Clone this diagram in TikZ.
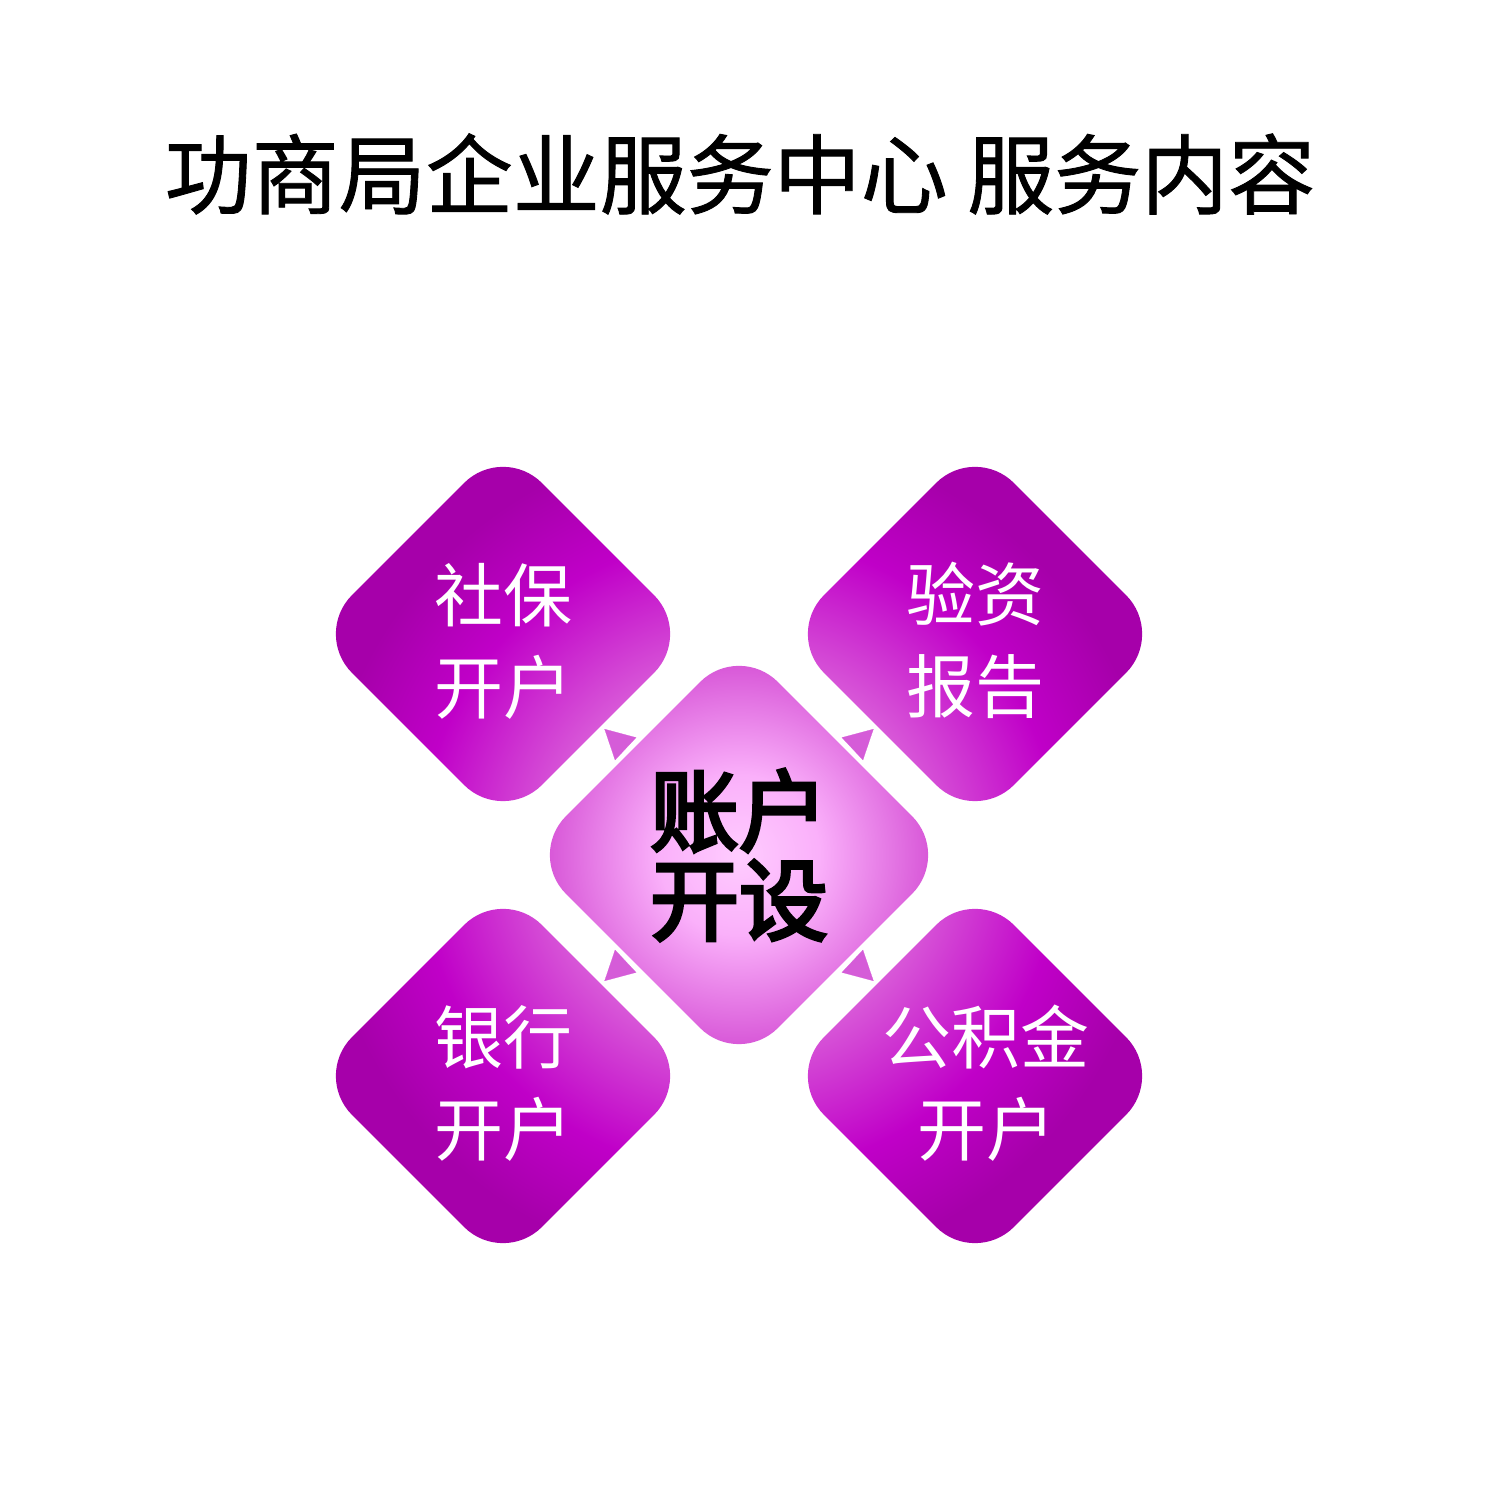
\documentclass[tikz,border=0pt]{standalone}
\usepackage{fontspec}
\newfontfamily\cjk{Noto Sans CJK SC}
\newfontfamily\cjkmid[FakeBold=1]{Noto Sans CJK SC}
\newfontfamily\cjkheavy[FakeBold=4]{Noto Sans CJK SC}
\usepackage{tikz}
\usetikzlibrary{calc,positioning,arrows.meta,shapes.geometric}
\definecolor{GlowCore}{HTML}{FFCCFF}
\definecolor{GlowLight}{HTML}{FAB0FA}
\definecolor{GlowMid}{HTML}{D858D8}
\definecolor{GlowMagenta}{HTML}{C000C8}
\definecolor{GlowDark}{HTML}{A600AA}
\definecolor{TipPink}{HTML}{D55CD8}
\pgfdeclareradialshading{glow}{\pgfpointorigin}{color(0bp)=(GlowCore); color(4bp)=(GlowLight); color(9.5bp)=(GlowMid); color(16bp)=(GlowMagenta); color(21bp)=(GlowDark); color(25bp)=(GlowDark); color(50bp)=(GlowDark)}
\newcommand\topgap{\rule{0pt}{72pt}}
\newcommand\nudge[1]{\hspace*{11pt}#1\hspace*{-11pt}}

\begin{document}
\begin{tikzpicture}[x=1pt,y=1pt,
        tile/.style={diamond, aspect=1, inner sep=0pt, rounded corners=55pt, align=center,
            path picture={\shade[shading=glow] (glow) circle (500pt);}},
        service/.style={tile, minimum width=380pt, minimum height=380pt, text=white,
            font=\cjk\fontsize{69}{92}\selectfont},
        pointer/.style={-{Triangle[length=29pt,width=31pt]}, line width=0.2pt, TipPink}]
        \useasboundingbox (0,0) rectangle (1507,1507);
        \coordinate (glow) at (739,652);

        \node[font=\cjkmid\fontsize{87}{87}\selectfont] (title) at (740,1333) {功商局企业服务中心 服务内容};

        \node[tile, minimum width=424pt, minimum height=424pt,
            font=\cjkheavy\fontsize{89}{89}\selectfont] (acct) at (glow) {账户\\开设};
        \node[service, on grid, above left=221pt and 236pt of acct] (shebao) {\topgap{}社保\\开户};
        \node[service, on grid, above right=221pt and 236pt of acct] (yanzi) {\topgap{}验资\\报告};
        \node[service, on grid, below left=221pt and 236pt of acct] (yinhang) {\topgap{}银行\\开户};
        \node[service, on grid, below right=221pt and 236pt of acct] (gjj) {\topgap{}\nudge{公积金}\\\nudge{开户}};

        \draw[pointer] ($(acct)!0.48!(shebao)$) -- ($(acct)!0.57!(shebao)$);
        \draw[pointer] ($(acct)!0.48!(yanzi)$) -- ($(acct)!0.57!(yanzi)$);
        \draw[pointer] ($(acct)!0.48!(yinhang)$) -- ($(acct)!0.57!(yinhang)$);
        \draw[pointer] ($(acct)!0.48!(gjj)$) -- ($(acct)!0.57!(gjj)$);
    \end{tikzpicture}
\end{document}
